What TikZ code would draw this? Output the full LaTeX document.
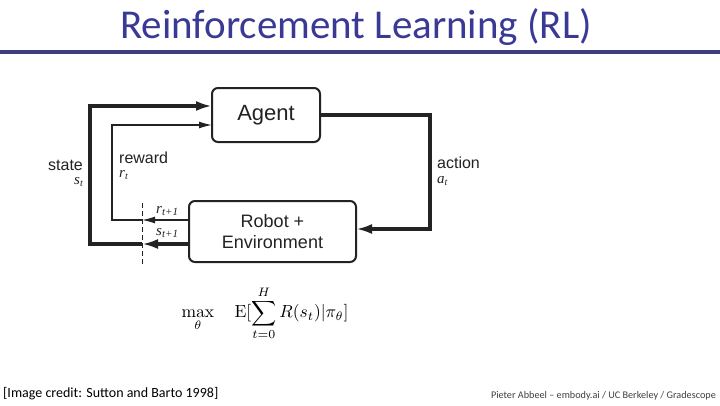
\documentclass[tikz,border=0pt]{standalone}
\usepackage{amsmath}
\usepackage[no-math]{fontspec}
\setmainfont{Carlito}
\newfontfamily\hel{Liberation Sans}
\newfontfamily\tim{Liberation Serif}
\usetikzlibrary{arrows.meta}
\definecolor{titleblue}{RGB}{58,58,150}
\definecolor{rulecol}{RGB}{60,62,125}
\definecolor{ink}{RGB}{35,35,35}
\begin{document}
\begin{tikzpicture}[x=1pt,y=-1pt,
  box/.style={draw=ink,line width=2pt,rounded corners=6pt,inner sep=0pt},
  thickarr/.style={draw=ink,line width=3.5pt,-{Latex[length=16pt,width=10pt]}},
  thinarr/.style={draw=ink,line width=1.3pt,-{Latex[length=13pt,width=7pt]}},
  lbl/.style={font=\hel\fontsize{16}{18}\selectfont,text=ink,inner sep=0pt,anchor=base west},
  ital/.style={font=\tim\itshape\fontsize{15}{17}\selectfont,text=ink,inner sep=0pt}]
\useasboundingbox (0,0) rectangle (720,405);
\fill[white] (0,0) rectangle (720,405);
% title
\node[text=titleblue,font=\fontsize{41}{44}\selectfont,inner sep=0pt] (title) at (356,27) {Reinforcement Learning (RL)};
\fill[rulecol] (0,49.5) rectangle (720,53.5);
% boxes
\draw[box] (212,88) rectangle (320,142);
\node[font=\hel\fontsize{22}{24}\selectfont,text=ink,inner sep=0pt] (agent) at (266,115) {Agent};
\draw[box] (189,201) rectangle (356,262);
\node[font=\hel\fontsize{18}{21}\selectfont,text=ink,align=center,inner sep=0pt] (env) at (272.5,231.5) {Robot +\\Environment};
\coordinate (aR) at (320,115);
\coordinate (eR) at (356,229);
\coordinate (aLs) at (212,106);
\coordinate (aLr) at (212,125);
\coordinate (eLr) at (189,220);
\coordinate (eLs) at (189,244);
\coordinate (dr) at (142,220);
\coordinate (ds) at (142,244);
% action
\draw[thickarr,line join=miter] (aR) -- (430,115) -- (430,229) -- (eR);
% state
\draw[thickarr] (eLs) -- (ds);
\draw[thickarr,line join=miter] (ds) -- (90,244) -- (90,106) -- (aLs);
% reward
\draw[thinarr] (eLr) -- (dr);
\draw[thinarr,line join=miter] (dr) -- (112,220) -- (112,125) -- (aLr);
% dashed
\coordinate (dtop) at (142,203);
\coordinate (dbot) at (142,265);
\draw[ink,line width=1pt,dash pattern=on 5pt off 3pt] (dtop) -- (dbot);
% labels
\node[lbl] (state) at (48,170) {state};
\node[ital,anchor=east] (st) at (83,182) {s\raisebox{-2.5pt}{\fontsize{10}{10}\selectfont t}};
\node[lbl] (reward) at (119,163) {reward};
\node[ital,anchor=west] (rt) at (119,175) {r\raisebox{-2.5pt}{\fontsize{10}{10}\selectfont t}};
\node[lbl] (action) at (437,168) {action};
\node[ital,anchor=west] (at) at (437,181) {a\raisebox{-2.5pt}{\fontsize{10}{10}\selectfont t}};
\node[ital,anchor=west] (rt1) at (156,211) {r\raisebox{-2.5pt}{\fontsize{11}{11}\selectfont t+1}};
\node[ital,anchor=west] (st1) at (156,233) {s\raisebox{-2.5pt}{\fontsize{11}{11}\selectfont t+1}};
% formula
\node[inner sep=0pt] (formula) at (265,313) {\scalebox{1.75}{$\displaystyle \max_{\theta}\quad \mathrm{E}[\sum_{t=0}^{H} R(s_t)|\pi_\theta]$}};
% footer
\node[anchor=west,inner sep=0pt,font=\fontsize{14}{16}\selectfont] (credit) at (3,394) {[Image credit: Sutton and Barto 1998]};
\node[anchor=east,inner sep=0pt,font=\fontsize{10.2}{12}\selectfont,text=black!75] (author) at (716,396) {Pieter Abbeel -- embody.ai / UC Berkeley / Gradescope};
\end{tikzpicture}
\end{document}
